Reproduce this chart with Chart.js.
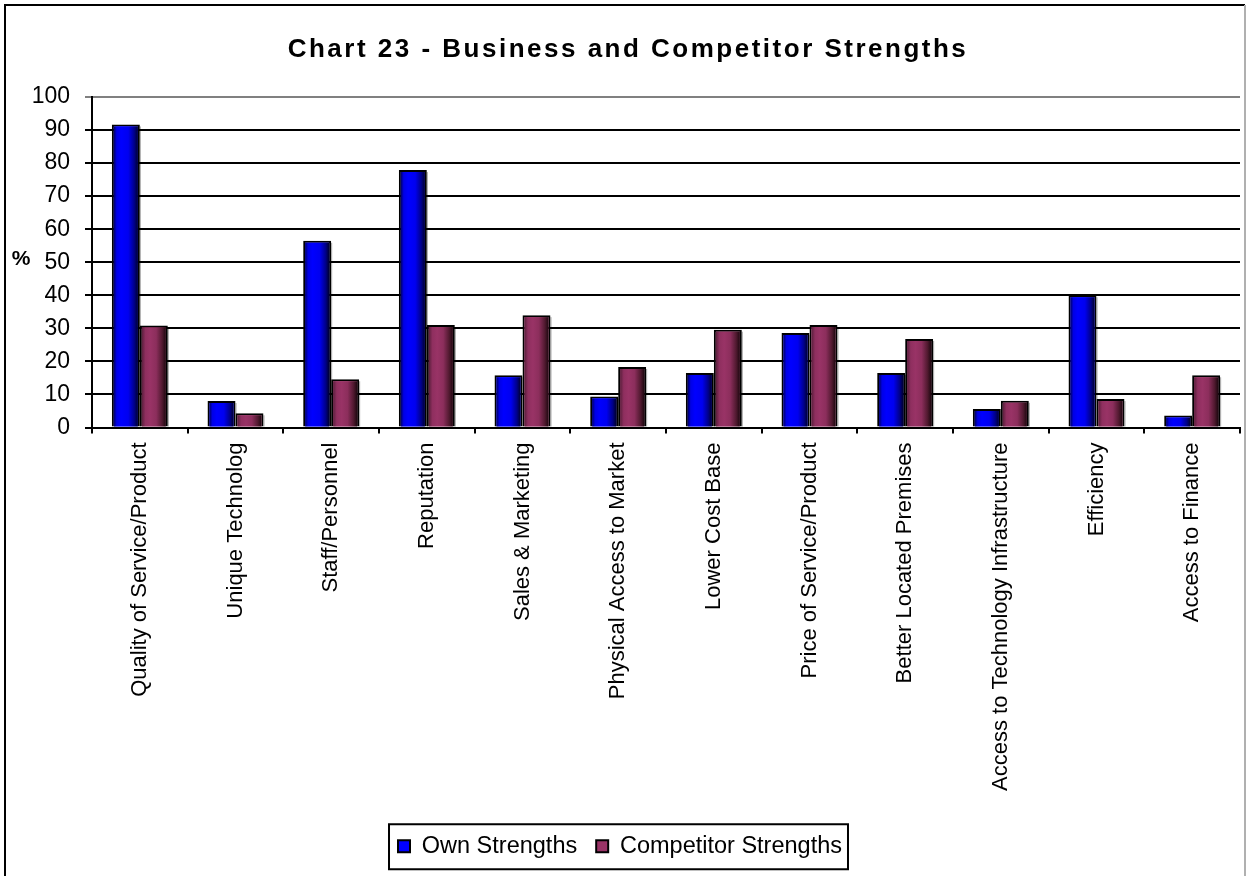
<!DOCTYPE html>
<html>
<head>
<meta charset="utf-8">
<title>Chart 23 - Business and Competitor Strengths</title>
<script src="https://cdn.jsdelivr.net/npm/chart.js@4/dist/chart.umd.min.js"></script>
<style>
  html, body { margin: 0; padding: 0; background: #fff; }
  #mycanvas { display: block; }
</style>
</head>
<body>
<canvas id="mycanvas" width="1256" height="876"></canvas>
<script>
var chartTitle = 'Chart 23 - Business and Competitor Strengths';
var categories = [
  'Quality of Service/Product', 'Unique Technolog', 'Staff/Personnel', 'Reputation',
  'Sales & Marketing', 'Physical Access to Market', 'Lower Cost Base', 'Price of Service/Product',
  'Better Located Premises', 'Access to Technology Infrastructure', 'Efficiency', 'Access to Finance'
];
var ownStrengths =        [91.7, 8.0, 56.5, 77.9, 15.8, 9.4, 16.5, 28.6, 16.5, 5.6, 40.0, 3.6];
var competitorStrengths = [30.9, 4.3, 14.6, 31.0, 34.0, 18.3, 29.6, 31.0, 26.8, 8.1, 8.6, 15.8];
var yTicks = [0, 10, 20, 30, 40, 50, 60, 70, 80, 90, 100];

var FONT = '"Liberation Sans", Arial, sans-serif';

// horizontal shading for each series, painted inside the bar borders
var shades = [
  [[0, '#000066'], [0.12, '#0000e6'], [0.3, '#0000ff'], [0.6, '#0000f0'], [0.85, '#00008a'], [1, '#000030']],
  [[0, '#5a1f3c'], [0.15, '#8f2f5f'], [0.35, '#993366'], [0.6, '#8c2e5c'], [0.85, '#50192f'], [1, '#1e0810']]
];

var decorations = {
  id: 'decorations',
  beforeDraw: function(chart) {
    var ctx = chart.ctx;
    ctx.save();
    ctx.fillStyle = '#fff';
    ctx.fillRect(0, 0, chart.width, chart.height);
    ctx.restore();
  },
  afterDatasetsDraw: function(chart) {
    var ctx = chart.ctx;
    ctx.save();
    chart.data.datasets.forEach(function(ds, di) {
      var meta = chart.getDatasetMeta(di);
      meta.data.forEach(function(bar) {
        var p = bar.getProps(['x', 'y', 'base', 'width'], true);
        var outerRight = p.x + p.width / 2;
        var left = p.x - p.width / 2 + 2;
        var right = outerRight - 2;
        var top = p.y + 2;
        var bottom = p.base;
        if (bottom - top <= 0) return;
        var g = ctx.createLinearGradient(left, 0, right, 0);
        shades[di].forEach(function(s) { g.addColorStop(s[0], s[1]); });
        ctx.fillStyle = g;
        ctx.fillRect(left, top, right - left, bottom - top);
        // light drop shadow on the right side
        ctx.fillStyle = 'rgba(0,0,0,0.35)';
        ctx.fillRect(outerRight, p.y + 2, 1, bottom - p.y - 2);
      });
    });
    ctx.restore();
  },
  afterDraw: function(chart) {
    var ctx = chart.ctx;
    ctx.save();

    // outer frame
    ctx.lineWidth = 2;
    ctx.strokeStyle = '#000';
    ctx.beginPath();
    ctx.moveTo(5, chart.height + 2);
    ctx.lineTo(5, 5);
    ctx.lineTo(1245, 5);
    ctx.stroke();
    ctx.strokeStyle = '#b0b0b0';
    ctx.beginPath();
    ctx.moveTo(1245, 5);
    ctx.lineTo(1245, chart.height + 2);
    ctx.stroke();

    // title
    ctx.fillStyle = '#000';
    ctx.font = 'bold 26px ' + FONT;
    ctx.letterSpacing = '2.5px';
    ctx.textAlign = 'center';
    ctx.textBaseline = 'alphabetic';
    ctx.fillText(chartTitle, 628, 57);

    // axis title
    ctx.letterSpacing = '0px';
    ctx.font = 'bold 21px ' + FONT;
    ctx.fillText('%', 21, 265);

    // legend box
    var boxes = chart.legend.legendHitBoxes;
    if (boxes && boxes.length) {
      var first = boxes[0], last = boxes[boxes.length - 1];
      var lx = first.left - 9;
      var rx = last.left + last.width + 6;
      var cy = first.top + first.height / 2;
      ctx.lineWidth = 2;
      ctx.strokeStyle = '#000';
      ctx.strokeRect(lx, cy - 22, rx - lx, 45);
    }
    ctx.restore();
  }
};

var ctx = document.getElementById('mycanvas').getContext('2d');
var barGraph = new Chart(ctx, {
  type: 'bar',
  data: {
    labels: categories,
    datasets: [
      {
        label: 'Own Strengths',
        data: ownStrengths,
        backgroundColor: '#0000ff',
        borderColor: '#000',
        borderWidth: 2
      },
      {
        label: 'Competitor Strengths',
        data: competitorStrengths,
        backgroundColor: '#993366',
        borderColor: '#000',
        borderWidth: 2
      }
    ]
  },
  options: {
    responsive: false,
    animation: false,
    devicePixelRatio: 1,
    layout: { padding: { top: 97, left: 0, right: 16, bottom: 8 } },
    datasets: {
      bar: { categoryPercentage: 0.585, barPercentage: 1.0 }
    },
    plugins: {
      title: { display: false },
      tooltip: { enabled: false },
      legend: {
        position: 'bottom',
        labels: {
          color: '#000',
          font: { family: FONT, size: 23.5 },
          boxWidth: 12,
          boxHeight: 12,
          padding: 19
        }
      }
    },
    scales: {
      x: {
        z: 1,
        grid: {
          drawOnChartArea: false,
          drawTicks: true,
          tickLength: 6,
          color: '#000',
          lineWidth: 2,
          offset: true
        },
        border: { color: '#000', width: 2 },
        ticks: {
          color: '#000',
          font: { family: FONT, size: 22 },
          minRotation: 90,
          maxRotation: 90,
          autoSkip: false,
          padding: 9
        },
        afterFit: function(scale) { scale.height = 388; }
      },
      y: {
        min: 0,
        max: 100,
        grid: {
          color: function(c) { return c.tick && c.tick.value === 100 ? '#808080' : '#000'; },
          lineWidth: 2,
          tickLength: 7
        },
        border: { color: '#000', width: 2 },
        ticks: {
          color: '#000',
          font: { family: FONT, size: 23 },
          padding: 15
        },
        afterBuildTicks: function(scale) {
          scale.ticks = yTicks.map(function(v) { return { value: v }; });
        },
        afterFit: function(scale) { scale.width = 92; }
      }
    }
  },
  plugins: [decorations]
});
</script>
</body>
</html>
